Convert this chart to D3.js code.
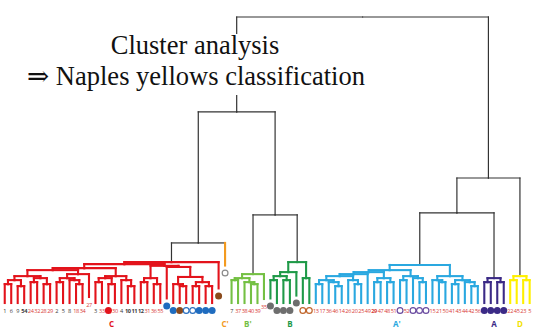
<!DOCTYPE html>
<html>
<head>
<meta charset="utf-8">
<script src="https://cdn.jsdelivr.net/npm/d3@7"></script>
<style>
	body { margin: 0; background: #fff; }
	svg { display: block; }
</style>
</head>
<body>
<svg id="chart" width="533" height="328"></svg>
<script>
	// leaves, left to right ("" = sample drawn as a marker)
	var leafLabels = ["1","6","9","54","24","32","28","29","2","5","8","18","34","27","3","33","","30","4","10","11","12","31","36","55",
		"","","","","","","","","",
		"",
		"7","37","38","40","39","35",
		"","","","","","","",
		"13","17","36","46","14","26","20","25","49","29","47","48","51","","52","","","","15","21","50","41","43","44","42","56",
		"","","","",
		"22","45","23","5"];

	var leafMarks = { 16: "r", 25: "b", 26: "b", 27: "n", 28: "bo", 29: "bo", 30: "b", 31: "b", 32: "b", 33: "n",
		34: "go", 41: "g", 42: "g", 43: "g", 44: "g", 45: "g", 46: "no", 47: "no",
		61: "po", 63: "po", 64: "po", 65: "po", 74: "p", 75: "p", 76: "p", 77: "p" };

	var darkLabels = [0, 1, 2, 3, 8, 9, 10, 14, 18, 19, 20, 21, 35],
		boldLabels = [3, 19, 20, 21, 57];

	// leaves whose line stops above the common base (distance units)
	var leafRaise = { 13: 0.021, 25: 0.016, 33: 0.051, 34: 0.131, 40: 0.014, 41: 0.016, 45: 0.026 };

	var clusterNames = ["C", "C'", "B'", "B", "A'", "A", "D"],
		clusterSizes = [34, 1, 6, 7, 26, 4, 4];

	// node = [linkage distance, child, child, ...], leaf = leaf index
	var treeC = [0.143,
		[0.136,
			[0.122,
				[0.115,
					[0.094, [0.08, [0.066, 0, 1], [0.059, 2, 3]], [0.087, [0.073, 4, 5], [0.066, 6, 7]]],
					[0.101, [0.087, [0.073, 8, 9], [0.08, 10, [0.066, 11, 12]]], 13]],
				[0.094, [0.087, [0.073, 14, 15], [0.066, 16, 17]], [0.08, 18, [0.059, 19, 20]]]],
			[0.13,
				[0.087, [0.073, 21, 22], [0.066, 23, 24]],
				[0.126, 25, [0.091, [0.066, 26, [0.059, 27, 28]], [0.073, [0.059, 29, 30], [0.059, 31, 32]]]]]],
		33];
	var treeCp = 34;
	var treeBp = [0.101, [0.087, [0.08, 35, 36], [0.073, 37, [0.066, 38, 39]]], 40];
	var treeB = [0.143, [0.108, [0.094, [0.08, 41, 42], [0.08, 43, 44]], 45], [0.087, 46, 47]];
	var treeAp = [0.133,
		[0.115,
			[0.108,
				[0.101, [0.094, [0.08, [0.066, 48, 49], [0.073, 50, [0.059, 51, 52]]], [0.08, 53, [0.066, 54, 55]]], 56],
				[0.087, [0.073, 57, 58], [0.073, 59, 60]]],
			[0.094, [0.08, 61, 62], [0.087, 63, [0.073, 64, 65]]]],
		[0.094, [0.08, 66, [0.073, 67, 68]], [0.08, [0.066, 69, 70], [0.073, 71, [0.059, 72, 73]]]]];
	var treeA = [0.087, [0.073, 74, 75], [0.073, 76, 77]];
	var treeD = [0.094, [0.08, 78, 79], [0.08, 80, 81]];

	var tree = [1.0,
		[0.668, [0.21, treeC, treeCp], [0.308, treeBp, treeB]],
		[0.437, [0.315, treeAp, treeA], treeD]];

	var clusterColors = ["#e3131b", "#f39a1f", "#74c043", "#1f9a48", "#2aa8e0", "#3b2a86", "#fff000"],
		letterColors = ["#e3131b", "#f39a1f", "#74c043", "#1f9a48", "#2aa8e0", "#3b2a86", "#f2e200"],
		markColors = { r: "#e3131b", b: "#1f6cbf", bo: "#2a6fc0", n: "#8a4a1c", no: "#c0652b",
			go: "#8a8a8a", g: "#6e6e6e", po: "#6a4ba0", p: "#3b2a86" },
		lineBlack = "#333";

	var leafCluster = [];
	clusterSizes.forEach(function(n, c) {
		for (var i = 0; i < n; i++) leafCluster.push(c);
	});

	var svg = d3.select("#chart");

	var root = d3.hierarchy(tree, function(d) { return Array.isArray(d) ? d.slice(1) : null; });
	d3.cluster().size([leafLabels.length - 1, 1]).separation(function() { return 1; })(root);

	var x = d3.scaleLinear().domain([0, leafLabels.length - 1]).range([1.5, 532.9]),
		y = d3.scaleLinear().domain([0, 1]).range([303, 17]);

	function dist(n) {
		return Array.isArray(n.data) ? n.data[0] : (leafRaise[n.data] || 0);
	}

	// cluster index if all leaves of the node share one, else -1
	root.eachAfter(function(n) {
		if (!n.children) { n.cl = leafCluster[n.data]; return; }
		var c = n.children[0].cl;
		n.cl = n.children.every(function(k) { return k.cl === c; }) ? c : -1;
	});

	function col(c) { return c < 0 ? lineBlack : clusterColors[c]; }

	var segs = [];
	root.descendants().forEach(function(n) {
		if (!n.parent) return;
		var p = n.parent,
			vc = p.cl >= 0 ? p.cl : (n.children ? -1 : n.cl);
		segs.push({ x1: x(p.x), y1: y(dist(p)), x2: x(n.x), y2: y(dist(p)), c: p.cl });
		segs.push({ x1: x(n.x), y1: y(dist(p)), x2: x(n.x), y2: y(dist(n)), c: vc });
	});
	segs.sort(function(a, b) { return (a.c >= 0) - (b.c >= 0); });

	svg.append("g").selectAll("line")
		.data(segs)
		.enter()
		.append("line")
		.attr("x1", function(d) { return d.x1; })
		.attr("y1", function(d) { return d.y1; })
		.attr("x2", function(d) { return d.x2; })
		.attr("y2", function(d) { return d.y2; })
		.attr("stroke", function(d) { return col(d.c); })
		.attr("stroke-width", function(d) { return d.c < 0 ? 1.2 : 2.1; })
		.attr("stroke-linecap", "square");

	var leaves = root.leaves();

	svg.append("g").selectAll("text")
		.data(leaves.filter(function(n) { return leafLabels[n.data] !== ""; }))
		.enter()
		.append("text")
		.attr("x", function(n) { return x(n.x); })
		.attr("y", function(n) { return y(dist(n)) + 10; })
		.attr("text-anchor", "middle")
		.attr("font-family", "'Open Sans', 'Liberation Sans', sans-serif")
		.attr("font-size", 5.6)
		.attr("letter-spacing", -0.35)
		.attr("font-weight", function(n) { return boldLabels.indexOf(n.data) >= 0 ? "bold" : "normal"; })
		.attr("fill", function(n) { return darkLabels.indexOf(n.data) >= 0 ? "#3a3a3a" : "#d9403a"; })
		.text(function(n) { return leafLabels[n.data]; });

	svg.append("g").selectAll("circle")
		.data(leaves.filter(function(n) { return leafMarks[n.data]; }))
		.enter()
		.append("circle")
		.attr("cx", function(n) { return x(n.x); })
		.attr("cy", function(n) { return y(dist(n)) + 7.5; })
		.attr("r", function(n) { return leafMarks[n.data].length > 1 ? 2.9 : 3.5; })
		.attr("fill", function(n) { var m = leafMarks[n.data]; return m.length > 1 ? "#fff" : markColors[m]; })
		.attr("stroke", function(n) { return markColors[leafMarks[n.data]]; })
		.attr("stroke-width", function(n) { return leafMarks[n.data].length > 1 ? 1.2 : 0; });

	// cluster letters under the mean leaf position
	svg.append("g").selectAll("text")
		.data(clusterNames)
		.enter()
		.append("text")
		.attr("x", function(d, c) {
			return d3.mean(leaves.filter(function(n) { return n.cl === c; }), function(n) { return x(n.x); });
		})
		.attr("y", 326.5)
		.attr("text-anchor", "middle")
		.attr("font-family", "'Open Sans', 'Liberation Sans', sans-serif")
		.attr("font-size", 8)
		.attr("font-weight", "bold")
		.attr("fill", function(d, c) { return letterColors[c]; })
		.text(function(d) { return d; });

	var title = svg.append("g");
	var tbg = title.append("rect").attr("fill", "#fff");
	title.append("text")
		.attr("x", 195)
		.attr("y", 53.5)
		.attr("text-anchor", "middle")
		.attr("font-family", "'Liberation Serif', 'DejaVu Serif', serif")
		.attr("font-size", 26.5)
		.attr("fill", "#111")
		.text("Cluster analysis");
	title.append("text")
		.attr("x", 196)
		.attr("y", 85)
		.attr("text-anchor", "middle")
		.attr("font-family", "'Liberation Serif', 'DejaVu Serif', serif")
		.attr("font-size", 26.5)
		.attr("fill", "#111")
		.text("\u21D2 Naples yellows classification");
	var bb = title.node().getBBox();
	tbg.attr("x", bb.x - 2).attr("y", 34).attr("width", bb.width + 4).attr("height", 61);
</script>
</body>
</html>
